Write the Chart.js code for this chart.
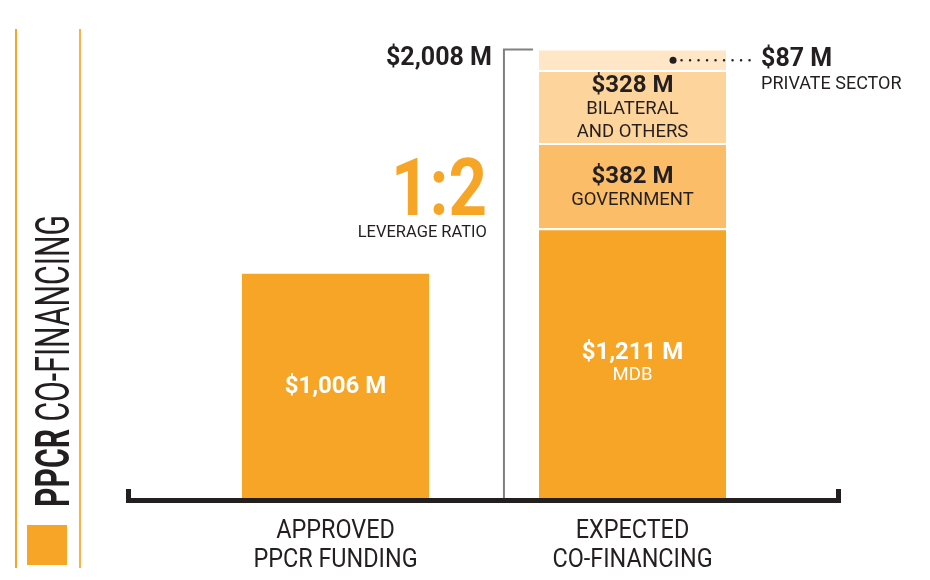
<!DOCTYPE html>
<html>
<head>
<meta charset="utf-8">
<script src="https://cdn.jsdelivr.net/npm/chart.js@4"></script>
<style>
	body { margin: 0; background: #fff; }
	#wrap { width: 930px; height: 580px; }
</style>
</head>
<body>
<div id="wrap"><canvas id="coChart"></canvas></div>
<script>
// chart data
const categories = [["APPROVED", "PPCR FUNDING"], ["EXPECTED", "CO-FINANCING"]]
const approvedFunding = [1006, null]
const mdb = [null, 1211]
const government = [null, 382]
const bilateral = [null, 328]
const privateSector = [null, 87]
const segmentLabels = [
	["$1,006 M"],
	["$1,211 M", "MDB"],
	["$382 M", "GOVERNMENT"],
	["$328 M", "BILATERAL", "AND OTHERS"],
	["$87 M", "PRIVATE SECTOR"],
]
const totalLabel = "$2,008 M"
const ratioLabel = "1:2"
const ratioCaption = "LEVERAGE RATIO"
const titleBold = "PPCR "
const titleRest = "CO-FINANCING"

const ORANGE = "#f7a527"
const DARK = "#231f20"
const FONT = "Roboto, 'Noto Sans', sans-serif"

const condensedText = (ctx, text, x, y, sx, align) => {
	ctx.save()
	ctx.translate(x, y)
	ctx.scale(sx, 1)
	ctx.textAlign = align
	ctx.fillText(text, 0, 0)
	ctx.restore()
}

const decorations = {
	id: "decorations",
	afterDraw(chart) {
		const ctx = chart.ctx
		const xs = chart.scales.x
		const ys = chart.scales.y
		ctx.save()

		// side panel
		ctx.fillStyle = ORANGE
		ctx.fillRect(15, 29, 2, 539)
		ctx.fillStyle = "#fbb244"
		ctx.fillRect(79, 29, 2, 539)
		ctx.fillStyle = ORANGE
		ctx.fillRect(27, 525, 40, 40)

		ctx.save()
		ctx.translate(69, 507)
		ctx.rotate(-Math.PI / 2)
		ctx.fillStyle = DARK
		ctx.textBaseline = "alphabetic"
		ctx.font = "bold 49px " + FONT
		const wb = ctx.measureText(titleBold).width
		ctx.font = "49px " + FONT
		const wr = ctx.measureText(titleRest).width
		const sx = 292 / (wb + wr)
		ctx.scale(sx, 1)
		ctx.textAlign = "left"
		ctx.font = "bold 49px " + FONT
		ctx.fillText(titleBold, 0, 0)
		ctx.font = "49px " + FONT
		ctx.fillText(titleRest, wb, 0)
		ctx.restore()

		// base axis
		const base = ys.getPixelForValue(0)
		ctx.fillStyle = DARK
		ctx.fillRect(126, base, 715, 5)
		ctx.fillRect(126, base - 9, 5, 14)
		ctx.fillRect(836, base - 9, 5, 14)

		// category labels
		ctx.textBaseline = "middle"
		ctx.font = "26px " + FONT
		categories.forEach((lines, i) => {
			const cx = xs.getPixelForValue(i)
			lines.forEach((t, j) => condensedText(ctx, t, cx, base + 33 + j * 29, 0.9, "center"))
		})

		// bracket for total
		const bar = chart.getDatasetMeta(1).data[1]
		const left = bar.x - bar.width / 2
		const right = bar.x + bar.width / 2
		const total = mdb[1] + government[1] + bilateral[1] + privateSector[1]
		const topY = ys.getPixelForValue(total) - 1
		const bx = left - 35
		ctx.strokeStyle = "#808080"
		ctx.lineWidth = 2
		ctx.beginPath()
		ctx.moveTo(bx, base)
		ctx.lineTo(bx, topY)
		ctx.lineTo(left - 6, topY)
		ctx.stroke()

		ctx.fillStyle = DARK
		ctx.font = "bold 25px " + FONT
		ctx.textAlign = "right"
		ctx.fillText(totalLabel, bx - 12, topY + 9)

		ctx.fillStyle = ORANGE
		ctx.textBaseline = "alphabetic"
		ctx.font = "bold 80px " + FONT
		condensedText(ctx, ratioLabel, bx - 17, 215, 0.84, "right")
		ctx.fillStyle = DARK
		ctx.textBaseline = "middle"
		ctx.font = "16.5px " + FONT
		condensedText(ctx, ratioCaption, bx - 17, 233, 1, "right")

		// segment labels
		const stacks = [
			[0, 0, approvedFunding[0]],
			[1, 0, mdb[1]],
			[1, mdb[1], mdb[1] + government[1]],
			[1, mdb[1] + government[1], mdb[1] + government[1] + bilateral[1]],
		]
		stacks.forEach(([cat, lo, hi], k) => {
			const cx = xs.getPixelForValue(cat)
			const cy = (ys.getPixelForValue(lo) + ys.getPixelForValue(hi)) / 2 + (k < 2 ? 1 : 3)
			const lines = segmentLabels[k]
			ctx.fillStyle = k < 2 ? "#fff" : DARK
			ctx.textAlign = "center"
			ctx.textBaseline = "middle"
			lines.forEach((t, j) => {
				const y = cy + (j - (lines.length - 1) / 2) * 23
				if (j === 0) {
					ctx.font = "bold 24px " + FONT
					ctx.fillText(t, cx, y)
				} else {
					ctx.font = "18.5px " + FONT
					condensedText(ctx, t, cx, y, 1, "center")
				}
			})
		})

		// private sector callout
		const pLo = ys.getPixelForValue(total - privateSector[1])
		const pHi = ys.getPixelForValue(total)
		const py = (pLo + pHi) / 2
		const dotX = right - 53
		ctx.fillStyle = DARK
		ctx.beginPath()
		ctx.arc(dotX, py, 3.5, 0, Math.PI * 2)
		ctx.fill()
		ctx.setLineDash([0, 8.5])
		ctx.lineCap = "round"
		ctx.lineWidth = 2.5
		ctx.strokeStyle = DARK
		ctx.beginPath()
		ctx.moveTo(dotX + 8.5, py)
		ctx.lineTo(right + 27, py)
		ctx.stroke()
		ctx.setLineDash([])
		ctx.textAlign = "left"
		ctx.textBaseline = "middle"
		ctx.font = "bold 25px " + FONT
		ctx.fillText(segmentLabels[4][0], right + 35, py)
		ctx.font = "18px " + FONT
		condensedText(ctx, segmentLabels[4][1], right + 35, py + 24, 1, "left")

		ctx.restore()
	},
}

const sepBorder = { top: 2, left: 0, right: 0, bottom: 0 }

new Chart(document.getElementById("coChart").getContext("2d"), {
	type: "bar",
	data: {
		labels: categories,
		datasets: [
			{ label: "Approved PPCR funding", data: approvedFunding, backgroundColor: ORANGE, borderWidth: 0 },
			{ label: "MDB", data: mdb, backgroundColor: ORANGE, borderColor: "#fff", borderWidth: sepBorder, borderSkipped: false },
			{ label: "Government", data: government, backgroundColor: "#fbbd67", borderColor: "#fff", borderWidth: sepBorder, borderSkipped: false },
			{ label: "Bilateral and others", data: bilateral, backgroundColor: "#fdd49b", borderColor: "#fff", borderWidth: sepBorder, borderSkipped: false },
			{ label: "Private sector", data: privateSector, backgroundColor: "#fee6c7", borderWidth: 0 },
		],
	},
	options: {
		responsive: true,
		maintainAspectRatio: false,
		animation: false,
		layout: { padding: { left: 187, right: 149, top: 20, bottom: 82 } },
		datasets: { bar: { categoryPercentage: 1, barPercentage: 0.63 } },
		scales: {
			x: { stacked: true, display: false },
			y: { stacked: true, display: false, min: 0, max: 2145 },
		},
		plugins: { legend: { display: false }, tooltip: { enabled: false } },
	},
	plugins: [decorations],
})
</script>
</body>
</html>
